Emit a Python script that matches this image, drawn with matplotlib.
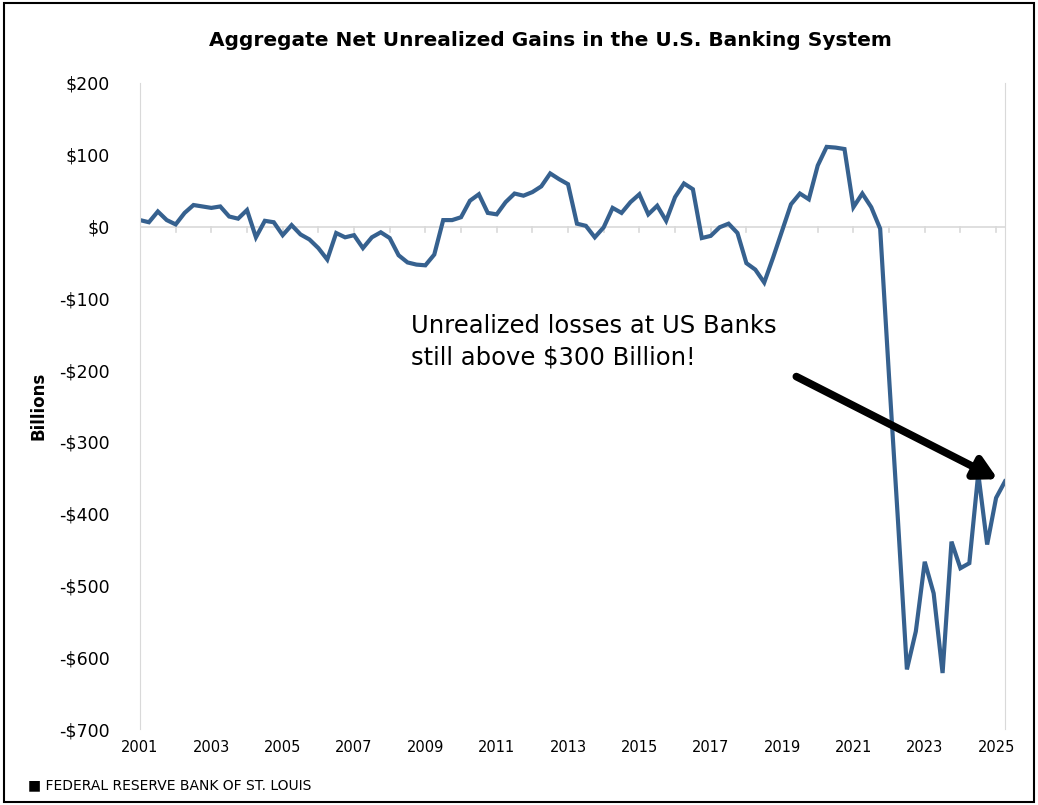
import matplotlib
matplotlib.use("Agg")
import matplotlib.pyplot as plt
import numpy as np

values = [9, 6, 21, 9, 3, 19, 30, 28, 26, 28, 14, 11, 23, -15, 8, 6,
          -12, 2, -11, -18, -30, -46, -9, -15, -12, -30, -15, -8, -16, -40, -50, -53,
          -54, -39, 9, 9, 13, 36, 45, 19, 17, 34, 46, 43, 48, 56, 74, 66,
          59, 4, 1, -15, -1, 26, 19, 34, 45, 17, 29, 8, 41, 60, 52, -16,
          -13, -1, 4, -9, -51, -60, -78, -43, -6, 31, 46, 38, 85, 111, 110, 108,
          27, 46, 27, -3, -210, -410, -617, -564, -467, -511, -622, -439, -476, -469, -344, -443,
          -378, -355]
years = 2001 + np.arange(len(values)) / 4.0
ytick_vals = list(range(-700, 201, 100))
ytick_labels = [("-$%d" % -v) if v < 0 else "$%d" % v for v in ytick_vals]
xtick_labels = list(range(2001, 2026, 2))

fig = plt.figure(figsize=(10.38, 8.05), dpi=100)
ax = fig.add_axes([140/1038, 1-729/805, (1005-140)/1038, (729-83)/805])
ax.plot(years, values, color="#36618f", lw=3, solid_joinstyle="miter")
ax.set_xlim(2001, 2001 + 97/4.0)
ax.set_ylim(-700, 200)
ax.set_yticks(ytick_vals)
ax.set_yticklabels(ytick_labels, fontsize=12.5)
ax.tick_params(axis="y", length=0, pad=22)
ax.set_xticks(xtick_labels)
ax.set_xticklabels([str(y) for y in xtick_labels], fontsize=10.5)
ax.tick_params(axis="x", which="both", length=0, pad=8)
ax.spines["top"].set_visible(False)
ax.spines["bottom"].set_visible(False)
for s in ["left", "right"]:
    ax.spines[s].set_color("#d9d9d9")
ax.axhline(0, color="#d9d9d9", lw=1.2, zorder=0)
for yr in range(2001, 2026):
    ax.plot([yr, yr], [0, -8], color="#d9d9d9", lw=1.2, zorder=0)
ax.set_ylabel("Billions", fontsize=12, fontweight="bold", labelpad=8)

fig.text(0.53, 1-40/805, "Aggregate Net Unrealized Gains in the U.S. Banking System",
         ha="center", va="center", fontsize=14.5, fontweight="bold")
ax.text(2008.6, -160, "Unrealized losses at US Banks\nstill above $300 Billion!",
        fontsize=17.5, ha="left", va="center", linespacing=1.4)
ax.annotate("", xy=(2025.05, -352), xytext=(2019.4, -209),
            arrowprops=dict(arrowstyle="-|>,head_length=1.3,head_width=0.7",
                            color="black", lw=5.5, shrinkA=0, shrinkB=0))
fig.text(28/1038, 1-785/805, "■ FEDERAL RESERVE BANK OF ST. LOUIS", fontsize=10, va="center")
fig.patches.append(plt.Rectangle((0.004, 0.004), 0.992, 0.992, transform=fig.transFigure,
                                 fill=False, edgecolor="black", lw=1.5))
fig.savefig("out.png", dpi=100)
